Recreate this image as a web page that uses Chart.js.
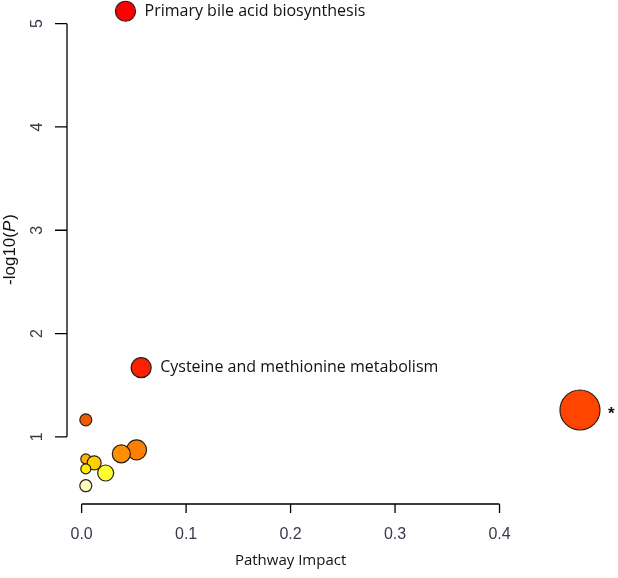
<!DOCTYPE html>
<html>
<head>
<meta charset="utf-8">
<script src="https://cdn.jsdelivr.net/npm/chart.js@4.4.1/dist/chart.umd.min.js"></script>
<style>
  html, body { margin: 0; padding: 0; background: #fff; }
  #wrap { width: 618px; height: 578px; position: relative; }
</style>
</head>
<body>
<div id="wrap"><canvas id="pathwayChart" width="618" height="578"></canvas></div>
<script>
"use strict";

// pathway impact (x) vs -log10(p) (y)
const pathwayNames = [
  "Primary bile acid biosynthesis",
  "Cysteine and methionine metabolism",
  "",
  "",
  "",
  "",
  "",
  "",
  "",
  "",
  ""
];
const impactValues = [0.042, 0.057, 0.477, 0.004, 0.0526, 0.038, 0.004, 0.012, 0.004, 0.023, 0.004];
const logPValues = [5.12, 1.67, 1.26, 1.165, 0.874, 0.835, 0.786, 0.748, 0.69, 0.65, 0.527];
const bubbleRadius = [10, 10, 20, 6, 10, 9, 5, 7, 5, 8, 6];
const bubbleColors = ["#ff0000", "#ff2000", "#ff4500", "#f05a00", "#ff8000", "#ff9000",
  "#ffb000", "#ffd000", "#ffee00", "#ffff30", "#ffffc0"];
const markedIndex = 2; // the big one gets a star

const xTicks = [0.0, 0.1, 0.2, 0.3, 0.4];
const yTicks = [1, 2, 3, 4, 5];

const bubblePoints = impactValues.map((v, i) => ({ x: v, y: logPValues[i], r: bubbleRadius[i] }));

const TICK_FONT = "16px 'Liberation Sans', Arial, sans-serif";

// R style axes + annotations
const rAxesPlugin = {
  id: "rAxes",
  afterDatasetsDraw(chart) {
    const ctx = chart.ctx;
    const xs = chart.scales.x;
    const ys = chart.scales.y;
    const area = chart.chartArea;
    ctx.save();
    ctx.strokeStyle = "#000";
    ctx.lineWidth = 1.3;

    // y axis
    const axX = area.left;
    ctx.beginPath();
    ctx.moveTo(axX, ys.getPixelForValue(yTicks[0]));
    ctx.lineTo(axX, ys.getPixelForValue(yTicks[yTicks.length - 1]));
    yTicks.forEach((t) => {
      const py = ys.getPixelForValue(t);
      ctx.moveTo(axX, py);
      ctx.lineTo(axX - 12, py);
    });
    ctx.stroke();

    ctx.fillStyle = "#3a3a4a";
    ctx.font = TICK_FONT;
    ctx.textAlign = "center";
    ctx.textBaseline = "middle";
    yTicks.forEach((t) => {
      const py = ys.getPixelForValue(t);
      ctx.save();
      ctx.translate(38, py);
      ctx.rotate(-Math.PI / 2);
      ctx.fillText(String(t), 0, 0);
      ctx.restore();
    });

    // x axis
    const axY = area.bottom;
    ctx.beginPath();
    ctx.moveTo(xs.getPixelForValue(xTicks[0]), axY);
    ctx.lineTo(xs.getPixelForValue(xTicks[xTicks.length - 1]), axY);
    xTicks.forEach((t) => {
      const px = xs.getPixelForValue(t);
      ctx.moveTo(px, axY);
      ctx.lineTo(px, axY + 9);
    });
    ctx.stroke();
    xTicks.forEach((t) => {
      ctx.fillText(t.toFixed(1), xs.getPixelForValue(t), 535);
    });

    // axis titles
    ctx.fillStyle = "#111";
    ctx.font = "15px 'Open Sans', sans-serif";
    ctx.fillText("Pathway Impact", (xs.getPixelForValue(0) + xs.getPixelForValue(0.4)) / 2, 561);

    ctx.save();
    ctx.translate(10, 250);
    ctx.rotate(-Math.PI / 2);
    const regular = "17px 'Liberation Sans', Arial, sans-serif";
    const italic = "italic 17px 'Liberation Sans', Arial, sans-serif";
    const part1 = "-log10(";
    const part2 = "P";
    const part3 = ")";
    ctx.font = regular;
    const w1 = ctx.measureText(part1).width;
    const w3 = ctx.measureText(part3).width;
    ctx.font = italic;
    const w2 = ctx.measureText(part2).width;
    const sx = -(w1 + w2 + w3) / 2;
    ctx.textAlign = "left";
    ctx.font = regular;
    ctx.fillText(part1, sx, 0);
    ctx.font = italic;
    ctx.fillText(part2, sx + w1, 0);
    ctx.font = regular;
    ctx.fillText(part3, sx + w1 + w2 + 1, 0);
    ctx.restore();

    // point labels
    const meta = chart.getDatasetMeta(0);
    ctx.textAlign = "left";
    ctx.font = "16px 'Open Sans', sans-serif";
    ctx.fillStyle = "#111";
    meta.data.forEach((el, i) => {
      if (pathwayNames[i]) {
        ctx.fillText(pathwayNames[i], el.x + bubbleRadius[i] + 9, el.y);
      }
    });
    const big = meta.data[markedIndex];
    ctx.font = "bold 17px 'Liberation Sans', Arial, sans-serif";
    ctx.fillText("*", big.x + bubbleRadius[markedIndex] + 8, big.y + 4);
    ctx.restore();
  }
};

const chart = new Chart(document.getElementById("pathwayChart"), {
  type: "bubble",
  data: {
    datasets: [
      {
        label: "pathways",
        data: bubblePoints,
        backgroundColor: bubbleColors,
        borderColor: "#2a2018",
        borderWidth: 1.2,
        hoverRadius: 0,
        clip: false
      }
    ]
  },
  options: {
    responsive: false,
    animation: false,
    devicePixelRatio: 1,
    layout: {
      autoPadding: false,
      padding: { left: 67, right: 14, top: 3, bottom: 74 }
    },
    scales: {
      x: { type: "linear", min: -0.014, max: 0.5, display: false },
      y: { type: "linear", min: 0.35, max: 5.2, display: false }
    },
    plugins: {
      legend: { display: false },
      tooltip: { enabled: false }
    }
  },
  plugins: [rAxesPlugin]
});
</script>
</body>
</html>
